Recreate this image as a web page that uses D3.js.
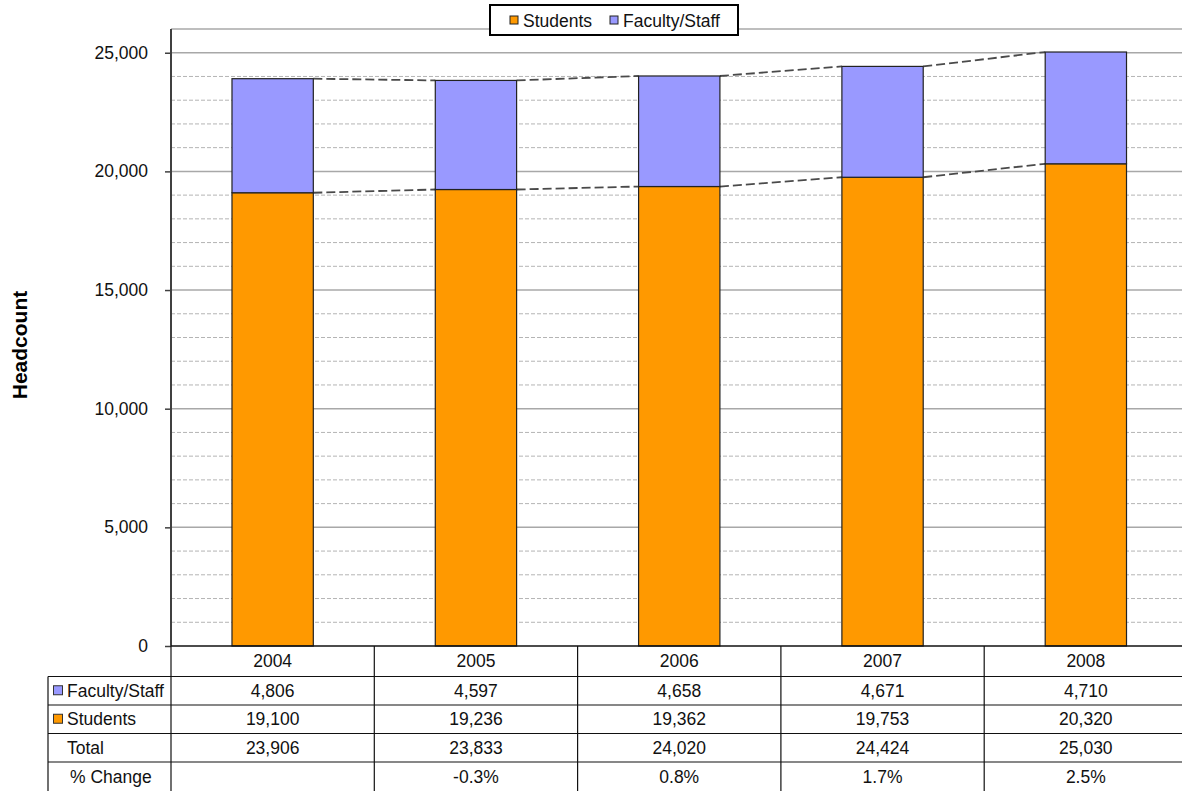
<!DOCTYPE html>
<html>
<head>
<meta charset="utf-8">
<script src="https://cdn.jsdelivr.net/npm/d3@7"></script>
<style>
  html, body { margin: 0; padding: 0; background: #fff; }
  svg { display: block; font-family: "Liberation Sans", Arial, sans-serif; }
</style>
</head>
<body>
<svg id="chart" width="1182" height="791"></svg>
<script>
const years = ["2004", "2005", "2006", "2007", "2008"];
const students = [19100, 19236, 19362, 19753, 20320];
const faculty = [4806, 4597, 4658, 4671, 4710];
const seriesNames = ["Students", "Faculty/Staff"];
const seriesColors = ["#FF9900", "#9999FF"];
const yTicks = [0, 5000, 10000, 15000, 20000, 25000];

(function () {
const svg = d3.select("#chart");
const fmt = d3.format(",");
const pctFmt = d3.formatLocale({ decimal: ".", thousands: ",", grouping: [3], currency: ["$", ""], minus: "-" }).format(".1%");
const pLeft = 171, pRight = 1187.5, pTop = 29, pBottom = 646;
const fs = 17.5;

const x = d3.scaleBand().domain(years).range([pLeft, pRight]).paddingInner(0).paddingOuter(0);
const y = d3.scaleLinear().domain([0, 26000]).range([pBottom, pTop]);
const barW = x.bandwidth() * 0.4;

// minor gridlines
const minor = d3.range(1000, 26000, 1000).filter(v => v % 5000 !== 0);
svg.append("g").selectAll("line").data(minor).join("line")
  .attr("x1", pLeft).attr("x2", pRight)
  .attr("y1", d => y(d)).attr("y2", d => y(d))
  .attr("stroke", "#b4b4b4").attr("stroke-width", 1).attr("stroke-dasharray", "4,2");
// major gridlines
svg.append("g").selectAll("line").data(yTicks.filter(v => v > 0).concat([26000])).join("line")
  .attr("x1", pLeft).attr("x2", pRight)
  .attr("y1", d => y(d)).attr("y2", d => y(d))
  .attr("stroke", "#a8a8a8").attr("stroke-width", 1.5);

// stacked bars
const totals = students.map((s, i) => s + faculty[i]);
const stackData = years.map((yr, i) => ({ year: yr, Students: students[i], "Faculty/Staff": faculty[i] }));
const stacked = d3.stack().keys(seriesNames)(stackData);

// series lines
stacked.forEach(layer => {
  for (let i = 0; i < years.length - 1; i++) {
    svg.append("line")
      .attr("x1", x(years[i]) + x.bandwidth() / 2 + barW / 2)
      .attr("x2", x(years[i + 1]) + x.bandwidth() / 2 - barW / 2)
      .attr("y1", y(layer[i][1])).attr("y2", y(layer[i + 1][1]))
      .attr("stroke", "#4a4a4a").attr("stroke-width", 1.8).attr("stroke-dasharray", "9,4");
  }
});

stacked.forEach((layer, li) => {
  svg.append("g").selectAll("rect").data(layer).join("rect")
    .attr("x", d => x(d.data.year) + x.bandwidth() / 2 - barW / 2)
    .attr("width", barW)
    .attr("y", d => y(d[1]))
    .attr("height", d => y(d[0]) - y(d[1]))
    .attr("fill", seriesColors[li])
    .attr("stroke", "#222").attr("stroke-width", 1.2);
});

// y axis
const yAxis = svg.append("g").attr("transform", `translate(${pLeft},0)`)
  .call(d3.axisLeft(y).tickValues(yTicks).tickFormat(fmt).tickSize(6).tickPadding(17));
yAxis.select(".domain").attr("stroke", "#404040").attr("stroke-width", 2).attr("d", `M0,${pTop}V${pBottom}`);
yAxis.selectAll(".tick line").attr("stroke", "#404040").attr("stroke-width", 1.5);
yAxis.selectAll(".tick text").attr("font-size", fs).attr("fill", "#111").attr("font-family", "Liberation Sans, Arial, sans-serif");

// y title
svg.append("text").attr("transform", "translate(27,345) rotate(-90)")
  .attr("text-anchor", "middle").attr("font-size", 21).attr("font-weight", "bold").attr("fill", "#000")
  .text("Headcount");

// data table
const rowTops = [646, 676.5, 705, 733.5, 762, 791];
const labelLeft = 48;
const tbl = svg.append("g");
const lineCol = "#111";
tbl.append("line").attr("x1", pLeft).attr("x2", pRight).attr("y1", rowTops[0]).attr("y2", rowTops[0]).attr("stroke", lineCol).attr("stroke-width", 1.5);
for (let r = 1; r < rowTops.length - 1; r++) {
  tbl.append("line").attr("x1", labelLeft).attr("x2", pRight).attr("y1", rowTops[r]).attr("y2", rowTops[r]).attr("stroke", lineCol).attr("stroke-width", 1.2);
}
tbl.append("line").attr("x1", labelLeft).attr("x2", labelLeft).attr("y1", rowTops[1]).attr("y2", 791).attr("stroke", lineCol).attr("stroke-width", 1.2);
years.forEach(yr => {
  tbl.append("line").attr("x1", x(yr)).attr("x2", x(yr)).attr("y1", rowTops[0]).attr("y2", 791).attr("stroke", lineCol).attr("stroke-width", 1.2);
});

const pct = totals.map((t, i) => i === 0 ? "" : pctFmt(t / totals[i - 1] - 1));
const rows = [
  { label: "Faculty/Staff", color: seriesColors[1], vals: faculty.map(fmt) },
  { label: "Students", color: seriesColors[0], vals: students.map(fmt) },
  { label: "Total", color: null, vals: totals.map(fmt) },
  { label: "% Change", color: null, vals: pct }
];
years.forEach(yr => {
  tbl.append("text").attr("x", x(yr) + x.bandwidth() / 2).attr("y", (rowTops[0] + rowTops[1]) / 2 + 6)
    .attr("text-anchor", "middle").attr("font-size", fs).attr("fill", "#111").text(yr);
});
rows.forEach((row, r) => {
  const cy = (rowTops[r + 1] + rowTops[r + 2]) / 2;
  if (row.color) {
    tbl.append("rect").attr("x", 53.5).attr("y", cy - 5).attr("width", 9).attr("height", 9)
      .attr("fill", row.color).attr("stroke", "#333").attr("stroke-width", 1);
  }
  tbl.append("text").attr("x", r === 3 ? 70 : 67).attr("y", cy + 6)
    .attr("font-size", fs).attr("fill", "#111").text(row.label);
  row.vals.forEach((v, i) => {
    tbl.append("text").attr("x", x(years[i]) + x.bandwidth() / 2).attr("y", cy + 6)
      .attr("text-anchor", "middle").attr("font-size", fs).attr("fill", "#111").text(v);
  });
});

// legend
const lg = svg.append("g");
lg.append("rect").attr("x", 490).attr("y", 5).attr("width", 248).attr("height", 30)
  .attr("fill", "#fff").attr("stroke", "#000").attr("stroke-width", 2);
const legendItems = [
  { name: "Students", color: seriesColors[0], sx: 510, tx: 523 },
  { name: "Faculty/Staff", color: seriesColors[1], sx: 610, tx: 623 }
];
legendItems.forEach(it => {
  lg.append("rect").attr("x", it.sx).attr("y", 16).attr("width", 8).attr("height", 8)
    .attr("fill", it.color).attr("stroke", "#222").attr("stroke-width", 1);
  lg.append("text").attr("x", it.tx).attr("y", 26.5).attr("font-size", fs).attr("fill", "#111").text(it.name);
});
})();
</script>
</body>
</html>
